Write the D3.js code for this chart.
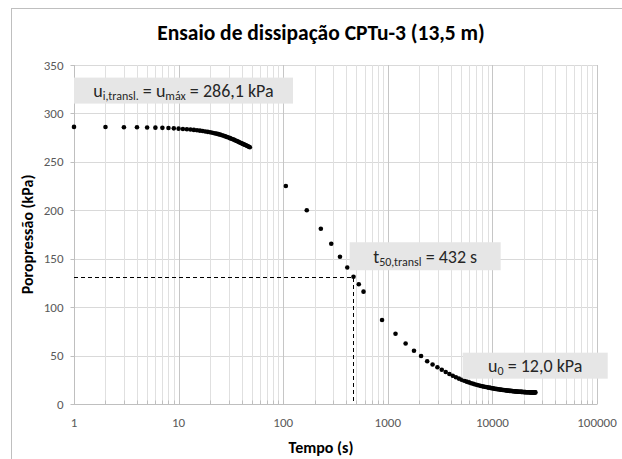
<!DOCTYPE html>
<html>
<head>
<meta charset="utf-8">
<script src="https://cdn.jsdelivr.net/npm/d3@7"></script>
<style>
  body { margin: 0; background: #fff; }
  text { font-family: Calibri, Carlito, Lato, sans-serif; fill: #595959; }
</style>
</head>
<body>
<div id="chart"></div>
<script>
// early readings (1 s steps) and later readings, translated curve
const earlyTime = [1, 2, 3, 4, 5, 6, 7, 8, 9, 10, 11, 12, 13, 14, 15, 16, 17, 18, 19, 20,
  21, 22, 23, 24, 25, 26, 27, 28, 29, 30, 31, 32, 33, 34, 35, 36, 37, 38, 39, 40,
  41, 42, 43, 44, 45, 46, 47, 48];
const earlyPress = [286.1, 286.0, 285.8, 285.7, 285.5, 285.3, 285.1, 284.9, 284.6, 284.3,
  284.0, 283.7, 283.4, 283.0, 282.6, 282.2, 281.8, 281.4, 281.0, 280.6,
  280.1, 279.6, 279.1, 278.6, 278.1, 277.5, 276.9, 276.3, 275.7, 275.1,
  274.5, 273.9, 273.3, 272.7, 272.1, 271.5, 270.9, 270.3, 269.7, 269.1,
  268.6, 268.1, 267.6, 267.1, 266.6, 266.1, 265.6, 265.1];

const lateTime = [106, 168, 229, 288, 349, 410, 470, 528, 586,
  881, 1185, 1480, 1780, 2080, 2380, 2680, 2980, 3280, 3580, 3880, 4180, 4480, 4780,
  5080, 5380, 5680, 5980, 6280, 6580, 6880, 7180, 7480, 7780, 8080, 8380, 8680, 8980,
  9280, 9580, 9880, 10180, 10480, 10780, 11080, 11380, 11680, 11980, 12280, 12580,
  12880, 13180, 13480, 13780, 14080, 14380, 14680, 14980, 15280, 15580, 15880, 16180,
  16480, 16780, 17080, 17380, 17680, 17980, 18280, 18580, 18880, 19180, 19480, 19780,
  20080, 20380, 20680, 20980, 21280, 21580, 21880, 22180, 22480, 22780, 23080, 23380,
  23680, 23980, 24280, 24580, 24880, 25180, 25480, 25780];
const latePress = [225, 200, 181, 165.5, 152, 141, 131.4, 123.6, 116,
  86.7, 72.6, 62.5, 55.0, 49.6, 44.2, 40.8, 37.9, 35.3, 33.0, 31.0, 29.2, 27.6, 26.2,
  25.0, 24.0, 23.1, 22.3, 21.5, 20.8, 20.2, 19.6, 19.1, 18.6, 18.2, 17.8, 17.5, 17.2,
  16.9, 16.6, 16.3, 16.1, 15.8, 15.6, 15.4, 15.2, 15.0, 14.8, 14.7, 14.5,
  14.4, 14.2, 14.1, 14.0, 13.8, 13.7, 13.6, 13.5, 13.4, 13.3, 13.2, 13.1,
  13.0, 12.9, 12.9, 12.8, 12.7, 12.7, 12.6, 12.6, 12.5, 12.5, 12.4, 12.4,
  12.3, 12.3, 12.3, 12.2, 12.2, 12.2, 12.1, 12.1, 12.1, 12.1, 12.0, 12.0,
  12.0, 12.0, 12.0, 12.0, 12.0, 12.0, 12.0, 12.0];

const xTicks = [1, 10, 100, 1000, 10000, 100000];
const yTicks = [0, 50, 100, 150, 200, 250, 300, 350];
const t50Point = [465, 131.5];   // where the dashed guide lines meet

const width = 622;
const height = 459;

const svg = d3.select("#chart").append("svg")
  .attr("width", width)
  .attr("height", height);

// frame of the chart area (cut off on the right and bottom)
svg.append("rect")
  .attr("x", 11.5).attr("y", 8.5)
  .attr("width", 640).attr("height", 470)
  .attr("fill", "none")
  .attr("stroke", "#bfbfbf");

const x = d3.scaleLog().domain([1, 100000]).range([74, 597]);
const y = d3.scaleLinear().domain([0, 350]).range([404, 65]);

//gridlines
const minorX = [];
for (let d = 1; d < 100000; d *= 10) {
  for (let k = 2; k <= 9; k++) minorX.push(d * k);
}

const grid = svg.append("g");
grid.selectAll(".gy")
  .data(yTicks.slice(1))
  .join("line")
  .attr("x1", x(1)).attr("x2", x(100000))
  .attr("y1", d => Math.round(y(d)) + 0.5).attr("y2", d => Math.round(y(d)) + 0.5)
  .attr("stroke", "#d9d9d9");

grid.selectAll(".gmin")
  .data(minorX)
  .join("line")
  .attr("x1", d => Math.round(x(d)) + 0.5).attr("x2", d => Math.round(x(d)) + 0.5)
  .attr("y1", y(350)).attr("y2", y(0))
  .attr("stroke", "#e0e0e0");

grid.selectAll(".gmaj")
  .data(xTicks.slice(1))
  .join("line")
  .attr("x1", d => Math.round(x(d)) + 0.5).attr("x2", d => Math.round(x(d)) + 0.5)
  .attr("y1", y(350)).attr("y2", y(0))
  .attr("stroke", "#c6c6c6");

// axes
const xAxis = svg.append("g")
  .attr("transform", `translate(0,${Math.round(y(0)) + 0.5})`);
xAxis.append("line")
  .attr("x1", x(1)).attr("x2", x(100000))
  .attr("stroke", "#bfbfbf");
xAxis.selectAll(".tk")
  .data(xTicks.concat(minorX))
  .join("line")
  .attr("x1", d => Math.round(x(d)) + 0.5).attr("x2", d => Math.round(x(d)) + 0.5)
  .attr("y1", -4).attr("y2", 0)
  .attr("stroke", "#bfbfbf");
xAxis.selectAll("text")
  .data(xTicks)
  .join("text")
  .attr("x", d => x(d))
  .attr("y", 22)
  .attr("text-anchor", "middle")
  .attr("font-size", 13)
  .text(d => d);

const yAxis = svg.append("g")
  .attr("transform", `translate(${Math.round(x(1)) + 0.5},0)`);
yAxis.append("line")
  .attr("y1", y(0)).attr("y2", y(350))
  .attr("stroke", "#bfbfbf");
yAxis.selectAll(".tk")
  .data(yTicks)
  .join("line")
  .attr("x1", -4).attr("x2", 0)
  .attr("y1", d => Math.round(y(d)) + 0.5).attr("y2", d => Math.round(y(d)) + 0.5)
  .attr("stroke", "#bfbfbf");
yAxis.selectAll("text")
  .data(yTicks)
  .join("text")
  .attr("x", -11)
  .attr("y", d => y(d) + 4.5)
  .attr("text-anchor", "end")
  .attr("font-size", 13)
  .text(d => d);

// titles
svg.append("text")
  .attr("x", 321).attr("y", 40)
  .attr("text-anchor", "middle")
  .attr("font-size", 21.5)
  .attr("font-weight", "bold")
  .style("fill", "#000")
  .text("Ensaio de dissipação CPTu-3 (13,5 m)");

svg.append("text")
  .attr("x", 321).attr("y", 453)
  .attr("text-anchor", "middle")
  .attr("font-size", 16)
  .attr("font-weight", "bold")
  .style("fill", "#000")
  .text("Tempo (s)");

svg.append("text")
  .attr("transform", `translate(33,${(y(0) + y(350)) / 2}) rotate(-90)`)
  .attr("text-anchor", "middle")
  .attr("font-size", 16)
  .attr("font-weight", "bold")
  .style("fill", "#000")
  .text("Poropressão (kPa)");

// dashed guides for t50
svg.append("path")
  .attr("d", `M${x(1)},${Math.round(y(t50Point[1])) + 0.5}H${Math.round(x(t50Point[0])) + 0.5}V${y(0)}`)
  .attr("fill", "none")
  .attr("stroke", "#000")
  .attr("stroke-width", 1)
  .attr("stroke-dasharray", "4,3");

// data points
const points = earlyTime.map((t, i) => [t, earlyPress[i]])
  .concat(lateTime.map((t, i) => [t, latePress[i]]));

svg.append("g")
  .selectAll("circle")
  .data(points)
  .join("circle")
  .attr("cx", d => x(d[0]))
  .attr("cy", d => y(d[1]))
  .attr("r", 2.3)
  .attr("fill", "#000");

// annotation boxes
function note(left, top, w, h, parts) {
  const g = svg.append("g");
  g.append("rect")
    .attr("x", left).attr("y", top)
    .attr("width", w).attr("height", h)
    .attr("fill", "#e6e6e6");
  const t = g.append("text")
    .attr("x", left + w / 2)
    .attr("y", top + h - 7)
    .attr("text-anchor", "middle")
    .attr("font-size", 18)
    .style("fill", "#262626");
  parts.forEach(p => {
    t.append("tspan")
      .attr("font-size", p.sub ? 12 : 18)
      .attr("dy", p.dy || 0)
      .text(p.s);
  });
}

note(x(1), y(337), 219, 26, [
  { s: "u" }, { s: "i,transl.", sub: true, dy: 3 },
  { s: " = u", dy: -3 }, { s: "máx", sub: true, dy: 3 },
  { s: " = 286,1 kPa", dy: -3 }
]);

note(x(432), y(167), 151, 28, [
  { s: "t" }, { s: "50,transl", sub: true, dy: 3 },
  { s: " = 432 s", dy: -3 }
]);

note(x(5200), y(53), 145, 26, [
  { s: "u" }, { s: "0", sub: true, dy: 3 },
  { s: " = 12,0 kPa", dy: -3 }
]);
</script>
</body>
</html>
